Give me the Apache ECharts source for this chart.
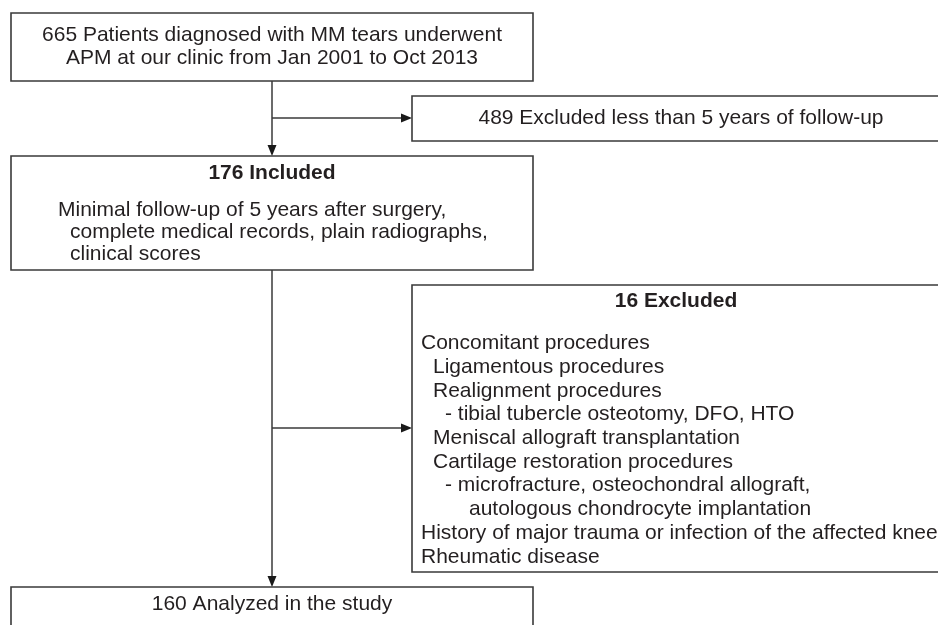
<!DOCTYPE html>
<html>
<head>
<meta charset="utf-8">
<title>Patient flow</title>
<script src="https://cdn.jsdelivr.net/npm/echarts@6/dist/echarts.min.js"></script>
<style>
html, body { margin: 0; padding: 0; background: #fff; }
#chart { width: 938px; height: 625px; }
</style>
</head>
<body>
<div id="chart"></div>
<script>
// patient numbers at each stage of the flow
const stageCounts = [665, 489, 176, 16, 160];

// box texts
const screenedLines = [stageCounts[0] + ' Patients diagnosed with MM tears underwent', 'APM at our clinic from Jan 2001 to Oct 2013'];
const shortFollowUpLines = [stageCounts[1] + ' Excluded less than 5 years of follow-up'];
const includedTitle = stageCounts[2] + ' Included';
const includedLines = ['Minimal follow-up of 5 years after surgery,', 'complete medical records, plain radiographs,', 'clinical scores'];
const includedIndent = [0, 1, 1];
const excludedTitle = stageCounts[3] + ' Excluded';
const excludedLines = [
    'Concomitant procedures',
    'Ligamentous procedures',
    'Realignment procedures',
    '- tibial tubercle osteotomy, DFO, HTO',
    'Meniscal allograft transplantation',
    'Cartilage restoration procedures',
    '- microfracture, osteochondral allograft,',
    'autologous chondrocyte implantation',
    'History of major trauma or infection of the affected knee',
    'Rheumatic disease'
];
const excludedIndent = [0, 1, 1, 2, 1, 1, 2, 4, 0, 0];
const analyzedLines = [stageCounts[4] + ' Analyzed in the study'];

// layout, in units of the hidden 938 x 625 value grid
const boxLayout = [
    {rect: [11, 13, 533, 81], lines: screenedLines, align: 'center', textX: 272, firstY: 35.5, step: 23},
    {rect: [412, 96, 950, 141], lines: shortFollowUpLines, align: 'center', textX: 681, firstY: 118.5, step: 22},
    {rect: [11, 156, 533, 270], title: {text: includedTitle, x: 272, y: 173}, lines: includedLines, indent: includedIndent,
        align: 'left', textX: 58, firstY: 210, step: 22},
    {rect: [412, 285, 950, 572], title: {text: excludedTitle, x: 676, y: 301}, lines: excludedLines, indent: excludedIndent,
        align: 'left', textX: 421, firstY: 343.5, step: 23.7},
    {rect: [11, 587, 533, 660], lines: analyzedLines, align: 'center', textX: 272, firstY: 604, step: 22}
];
const connectors = [
    [272, 81, 272, 156],
    [272, 118, 412, 118],
    [272, 270, 272, 587],
    [272, 428, 412, 428]
];

const lineColor = '#3a3a3a';
const textColor = '#231f20';
const fontFamily = '"Liberation Sans", Arial, Helvetica, sans-serif';
const fontSize = 21;
const indentStep = 12;

function textEl(text, pos, align, font) {
    return {
        type: 'text',
        style: {
            text: text, x: pos[0], y: pos[1], font: font, fill: textColor,
            align: align, textAlign: align, verticalAlign: 'middle', textVerticalAlign: 'middle'
        }
    };
}

function renderBox(params, api) {
    const b = boxLayout[params.dataIndex];
    const p0 = api.coord([api.value(0), api.value(1)]);
    const p1 = api.coord([api.value(2), api.value(3)]);
    const children = [{
        type: 'rect',
        shape: {x: p0[0], y: p0[1], width: p1[0] - p0[0], height: p1[1] - p0[1]},
        style: {fill: '#fff', stroke: lineColor, lineWidth: 1.6}
    }];
    if (b.title) {
        children.push(textEl(b.title.text, api.coord([b.title.x, b.title.y]), 'center', 'bold ' + fontSize + 'px ' + fontFamily));
    }
    b.lines.forEach(function (t, i) {
        const x = b.textX + (b.indent ? b.indent[i] * indentStep : 0);
        children.push(textEl(t, api.coord([x, b.firstY + i * b.step]), b.align, fontSize + 'px ' + fontFamily));
    });
    return {type: 'group', children: children};
}

function renderConnector(params, api) {
    const a = api.coord([api.value(0), api.value(1)]);
    const b = api.coord([api.value(2), api.value(3)]);
    const dx = b[0] - a[0], dy = b[1] - a[1];
    const len = Math.sqrt(dx * dx + dy * dy);
    const ux = dx / len, uy = dy / len;
    const headLen = 11, headHalf = 4.5;
    const base = [b[0] - ux * headLen, b[1] - uy * headLen];
    return {
        type: 'group',
        children: [{
            type: 'line',
            shape: {x1: a[0], y1: a[1], x2: base[0], y2: base[1]},
            style: {stroke: lineColor, lineWidth: 1.5}
        }, {
            type: 'polygon',
            shape: {points: [b, [base[0] - uy * headHalf, base[1] + ux * headHalf], [base[0] + uy * headHalf, base[1] - ux * headHalf]]},
            style: {fill: '#1a1a1a'}
        }]
    };
}

const chart = echarts.init(document.getElementById('chart'));
chart.setOption({
    backgroundColor: '#fff',
    animation: false,
    grid: {left: 0, right: 0, top: 0, bottom: 0},
    xAxis: {type: 'value', min: 0, max: 938, show: false},
    yAxis: {type: 'value', min: 0, max: 625, inverse: true, show: false},
    series: [
        {type: 'custom', renderItem: renderConnector, data: connectors, clip: false, silent: true},
        {type: 'custom', renderItem: renderBox, data: boxLayout.map(function (b) { return b.rect; }), clip: false, silent: true}
    ]
});
</script>
</body>
</html>
